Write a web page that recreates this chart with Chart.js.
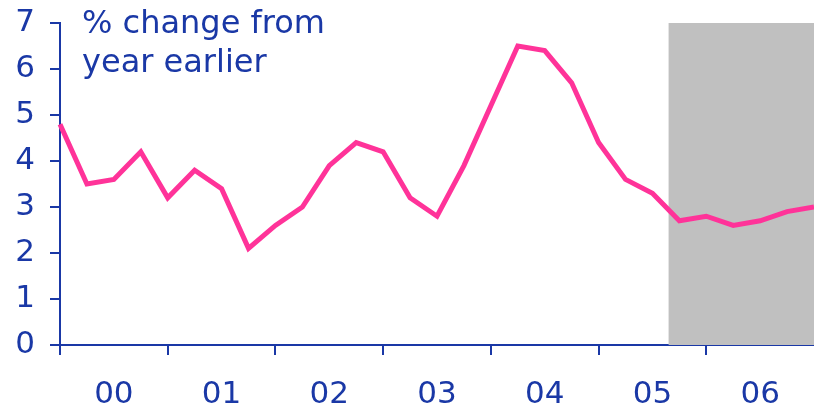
<!DOCTYPE html>
<html>
<head>
<meta charset="utf-8">
<script src="https://cdn.jsdelivr.net/npm/chart.js@4/dist/chart.umd.min.js"></script>
<style>
  html, body { margin: 0; padding: 0; background: #fff; }
  #wrap { width: 814px; height: 409px; position: relative; }
</style>
</head>
<body>
<div id="wrap"><canvas id="c"></canvas></div>
<script>
// quarterly points, 2000 Q1 .. 2007 Q1 (x = quarter index from start of 2000)
const quarters = [0, 1, 2, 3, 4, 5, 6, 7, 8, 9, 10, 11, 12, 13, 14, 15, 16, 17, 18, 19, 20, 21, 22, 23, 24, 25, 26, 27, 28];
const values = [4.8, 3.5, 3.6, 4.2, 3.2, 3.8, 3.4, 2.1, 2.6, 3.0, 3.9, 4.4, 4.2, 3.2, 2.8, 3.9, 5.2, 6.5, 6.4, 5.7, 4.4, 3.6, 3.3, 2.7, 2.8, 2.6, 2.7, 2.9, 3.0];
const yearLabels = ["00", "01", "02", "03", "04", "05", "06"];
const forecastStart = 22.6; // shaded forecast period begins here
const titleLines = ["% change from", "year earlier"];

const NAVY = "#1a38a6";
const PINK = "#ff3399";
const FONT = "'DejaVu Sans', Verdana, sans-serif";

const shade = {
    id: "shade",
    beforeDatasetsDraw(chart) {
        const { ctx, chartArea, scales } = chart;
        const x0 = scales.x.getPixelForValue(forecastStart);
        ctx.save();
        ctx.fillStyle = "#c0c0c0";
        ctx.fillRect(x0, scales.y.getPixelForValue(7), chartArea.right - x0,
            scales.y.getPixelForValue(0) - scales.y.getPixelForValue(7));
        ctx.restore();
    },
    afterDraw(chart) {
        const ctx = chart.ctx;
        ctx.save();
        ctx.fillStyle = NAVY;
        ctx.font = "32px " + FONT;
        ctx.textBaseline = "alphabetic";
        ctx.fillText(titleLines[0], 82, 33);
        ctx.fillText(titleLines[1], 82, 72);
        ctx.restore();
    }
};

new Chart(document.getElementById("c"), {
    type: "line",
    data: {
        datasets: [{
            data: quarters.map((q, i) => ({ x: q, y: values[i] })),
            borderColor: PINK,
            borderWidth: 5,
            pointRadius: 0,
            tension: 0,
            clip: false,
        }],
    },
    options: {
        responsive: true,
        maintainAspectRatio: false,
        animation: false,
        layout: { padding: { top: 23, right: 0, left: 0, bottom: 0 } },
        plugins: { legend: { display: false }, tooltip: { enabled: false } },
        scales: {
            x: {
                type: "linear",
                min: 0,
                max: 28,
                afterFit(s) { s.height = 64; s.paddingLeft = 0; s.paddingRight = 0; },
                border: { display: true, color: NAVY, width: 2 },
                grid: {
                    drawOnChartArea: false,
                    tickLength: 10,
                    lineWidth: 2,
                    tickColor: (c) => (c.tick && c.tick.value % 4 === 0 && c.tick.value < 28 ? NAVY : "rgba(0,0,0,0)"),
                },
                ticks: {
                    stepSize: 2,
                    autoSkip: false,
                    maxRotation: 0,
                    padding: 21,
                    color: NAVY,
                    font: { family: FONT, size: 31 },
                    callback: (v) => (v % 4 === 2 ? yearLabels[(v - 2) / 4] : ""),
                },
            },
            y: {
                min: 0,
                max: 7,
                afterFit(s) { s.width = 60; s.paddingTop = 0; s.paddingBottom = 0; },
                border: { display: true, color: NAVY, width: 2 },
                grid: {
                    drawOnChartArea: false,
                    tickLength: 10,
                    lineWidth: 2,
                    tickColor: NAVY,
                },
                ticks: {
                    stepSize: 1,
                    padding: 15,
                    color: NAVY,
                    font: { family: FONT, size: 31 },
                },
            },
        },
    },
    plugins: [shade],
});
</script>
</body>
</html>
